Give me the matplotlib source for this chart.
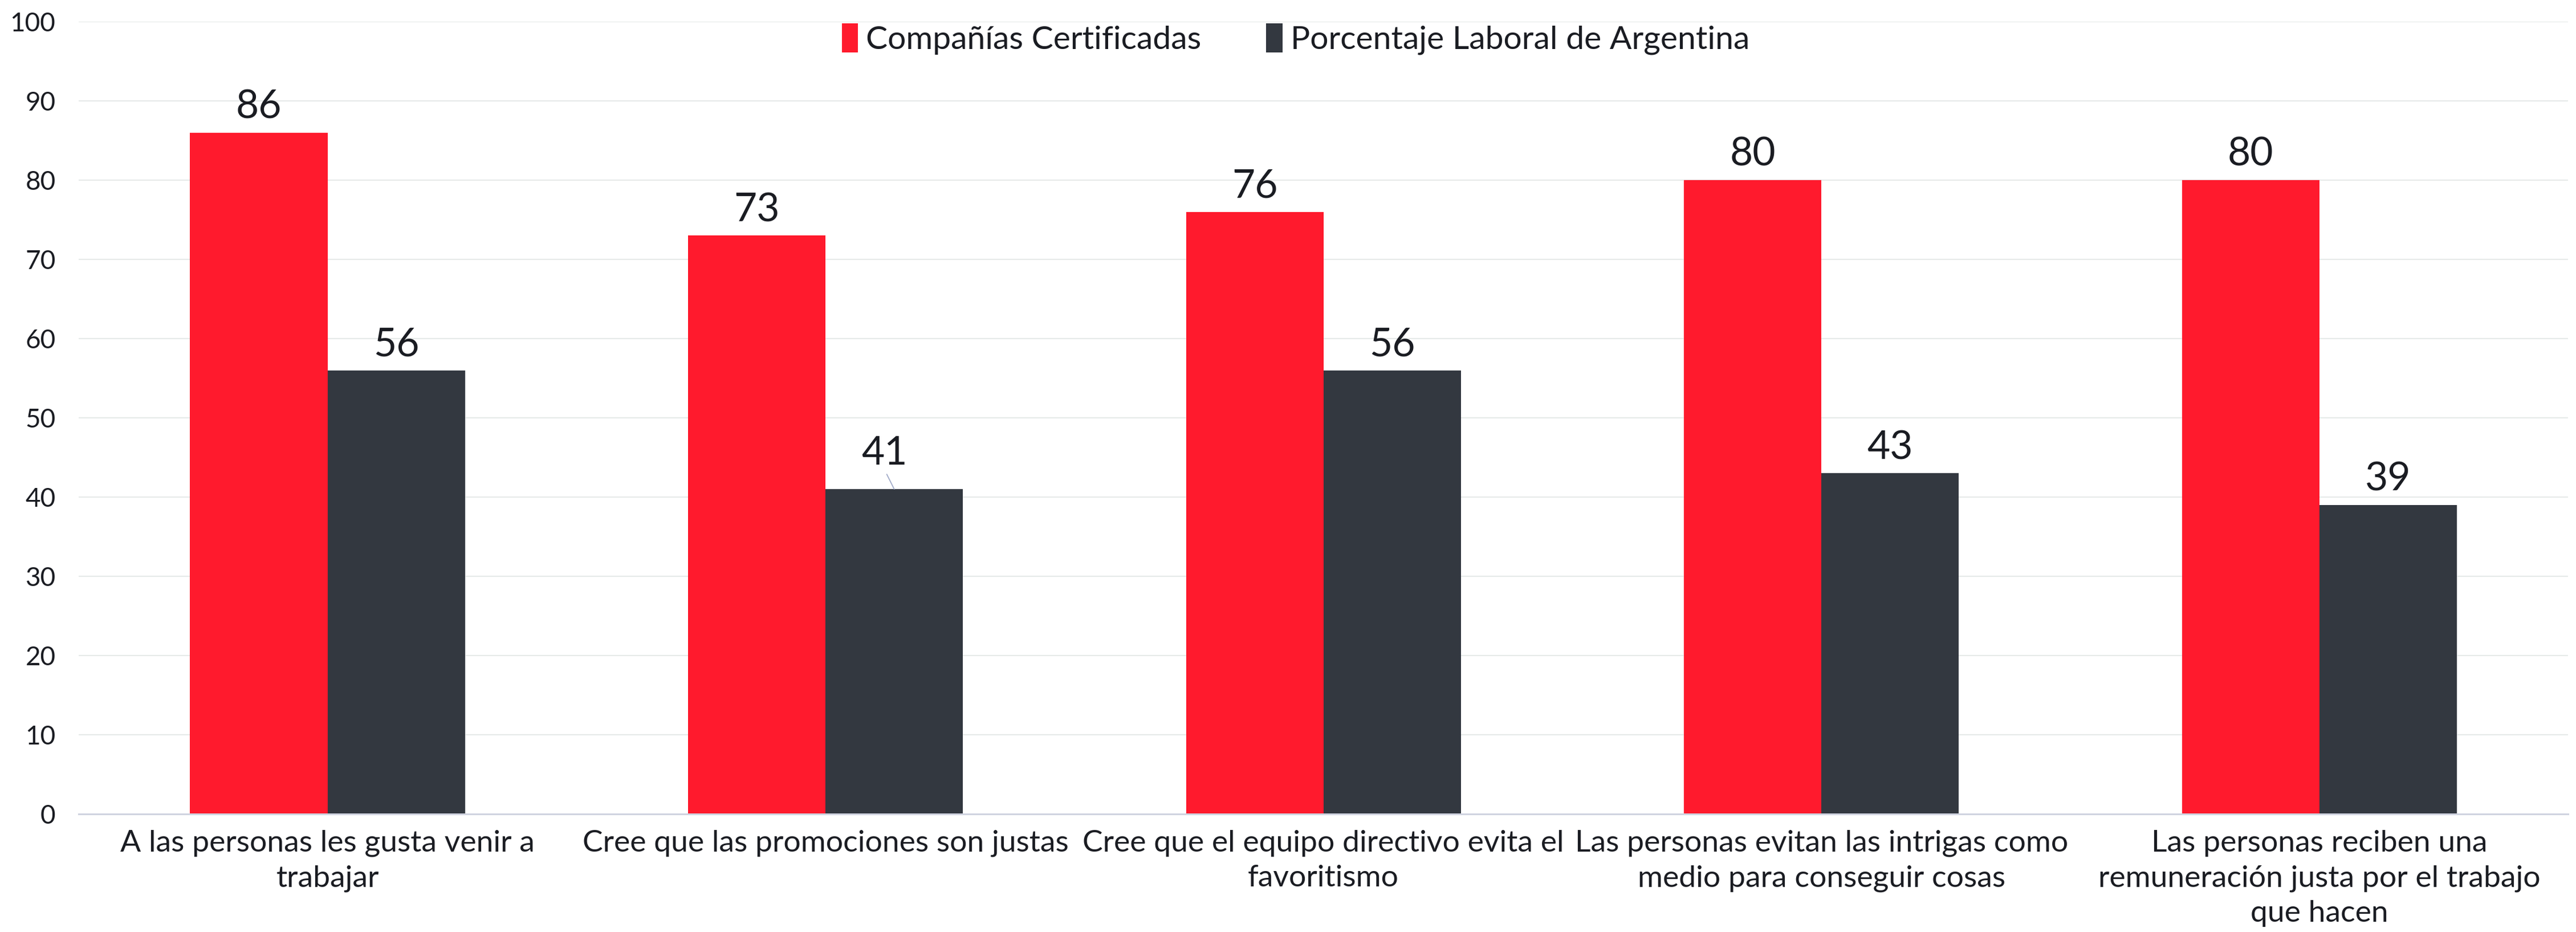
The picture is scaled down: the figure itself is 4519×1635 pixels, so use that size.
import matplotlib.pyplot as plt
import numpy as np

categories = [
    "A las personas les gusta venir a\ntrabajar",
    "Cree que las promociones son justas",
    "Cree que el equipo directivo evita el\nfavoritismo",
    "Las personas evitan las intrigas como\nmedio para conseguir cosas",
    "Las personas reciben una\nremuneración justa por el trabajo\nque hacen",
]
certificadas = [86, 73, 76, 80, 80]
argentina = [56, 41, 56, 43, 39]
series_names = ["Compañías Certificadas", "Porcentaje Laboral de Argentina"]

red = "#FF1A2D"
dark = "#333840"
txt = "#1A1C22"

plt.rcParams['font.family'] = ['Lato', 'DejaVu Sans']

fig = plt.figure(figsize=(45.19, 16.35), dpi=100)
ax = fig.add_axes([0.0305, 0.1266, 0.9665, 0.8502])

x = np.arange(len(categories))
w = 0.276
b1 = ax.bar(x - w / 2, certificadas, w, color=red, label=series_names[0], zorder=2)
b2 = ax.bar(x + w / 2, argentina, w, color=dark, label=series_names[1], zorder=2)

ax.set_xlim(-0.5, len(categories) - 0.5)
ax.set_ylim(0, 100)
ax.set_yticks(range(0, 101, 10))
ax.grid(axis='y', color='#E3E7E6', linewidth=1.3, zorder=0)
ax.set_axisbelow(True)
for s in ['top', 'right', 'left']:
    ax.spines[s].set_visible(False)
ax.spines['bottom'].set_color('#D0D4E0')
ax.spines['bottom'].set_linewidth(2.2)
ax.tick_params(axis='y', length=0, pad=29, labelsize=33, labelcolor=txt)
ax.tick_params(axis='x', length=0, pad=20, labelsize=38.5, labelcolor=txt)
ax.set_xticks(x)
ax.set_xticklabels(categories, linespacing=1.38)

# data labels
for bars in (b1, b2):
    for r in bars:
        v = r.get_height()
        cx = r.get_x() + r.get_width() / 2
        if bars is b2 and v == 41:
            ax.annotate(str(int(v)), xy=(cx, v), xytext=(-17, 43),
                        textcoords='offset pixels', ha='center', va='baseline',
                        fontsize=50, color=txt)
            ax.annotate("", xy=(cx, v), xytext=(-13, 26), textcoords='offset pixels',
                        arrowprops=dict(arrowstyle='-', color='#A0AAC8', lw=1.3,
                                        shrinkA=0, shrinkB=0))
        else:
            ax.annotate(str(int(v)), xy=(cx, v), xytext=(0, 25),
                        textcoords='offset pixels', ha='center', va='baseline',
                        fontsize=50, color=txt)

leg = fig.legend(loc='center', bbox_to_anchor=(0.503, 0.958), ncol=2, frameon=False,
                 fontsize=41, handlelength=0.5, handleheight=1.0, handletextpad=0.25,
                 columnspacing=2.0)
for t in leg.get_texts():
    t.set_color(txt)

fig.savefig("out.png", dpi=100)
